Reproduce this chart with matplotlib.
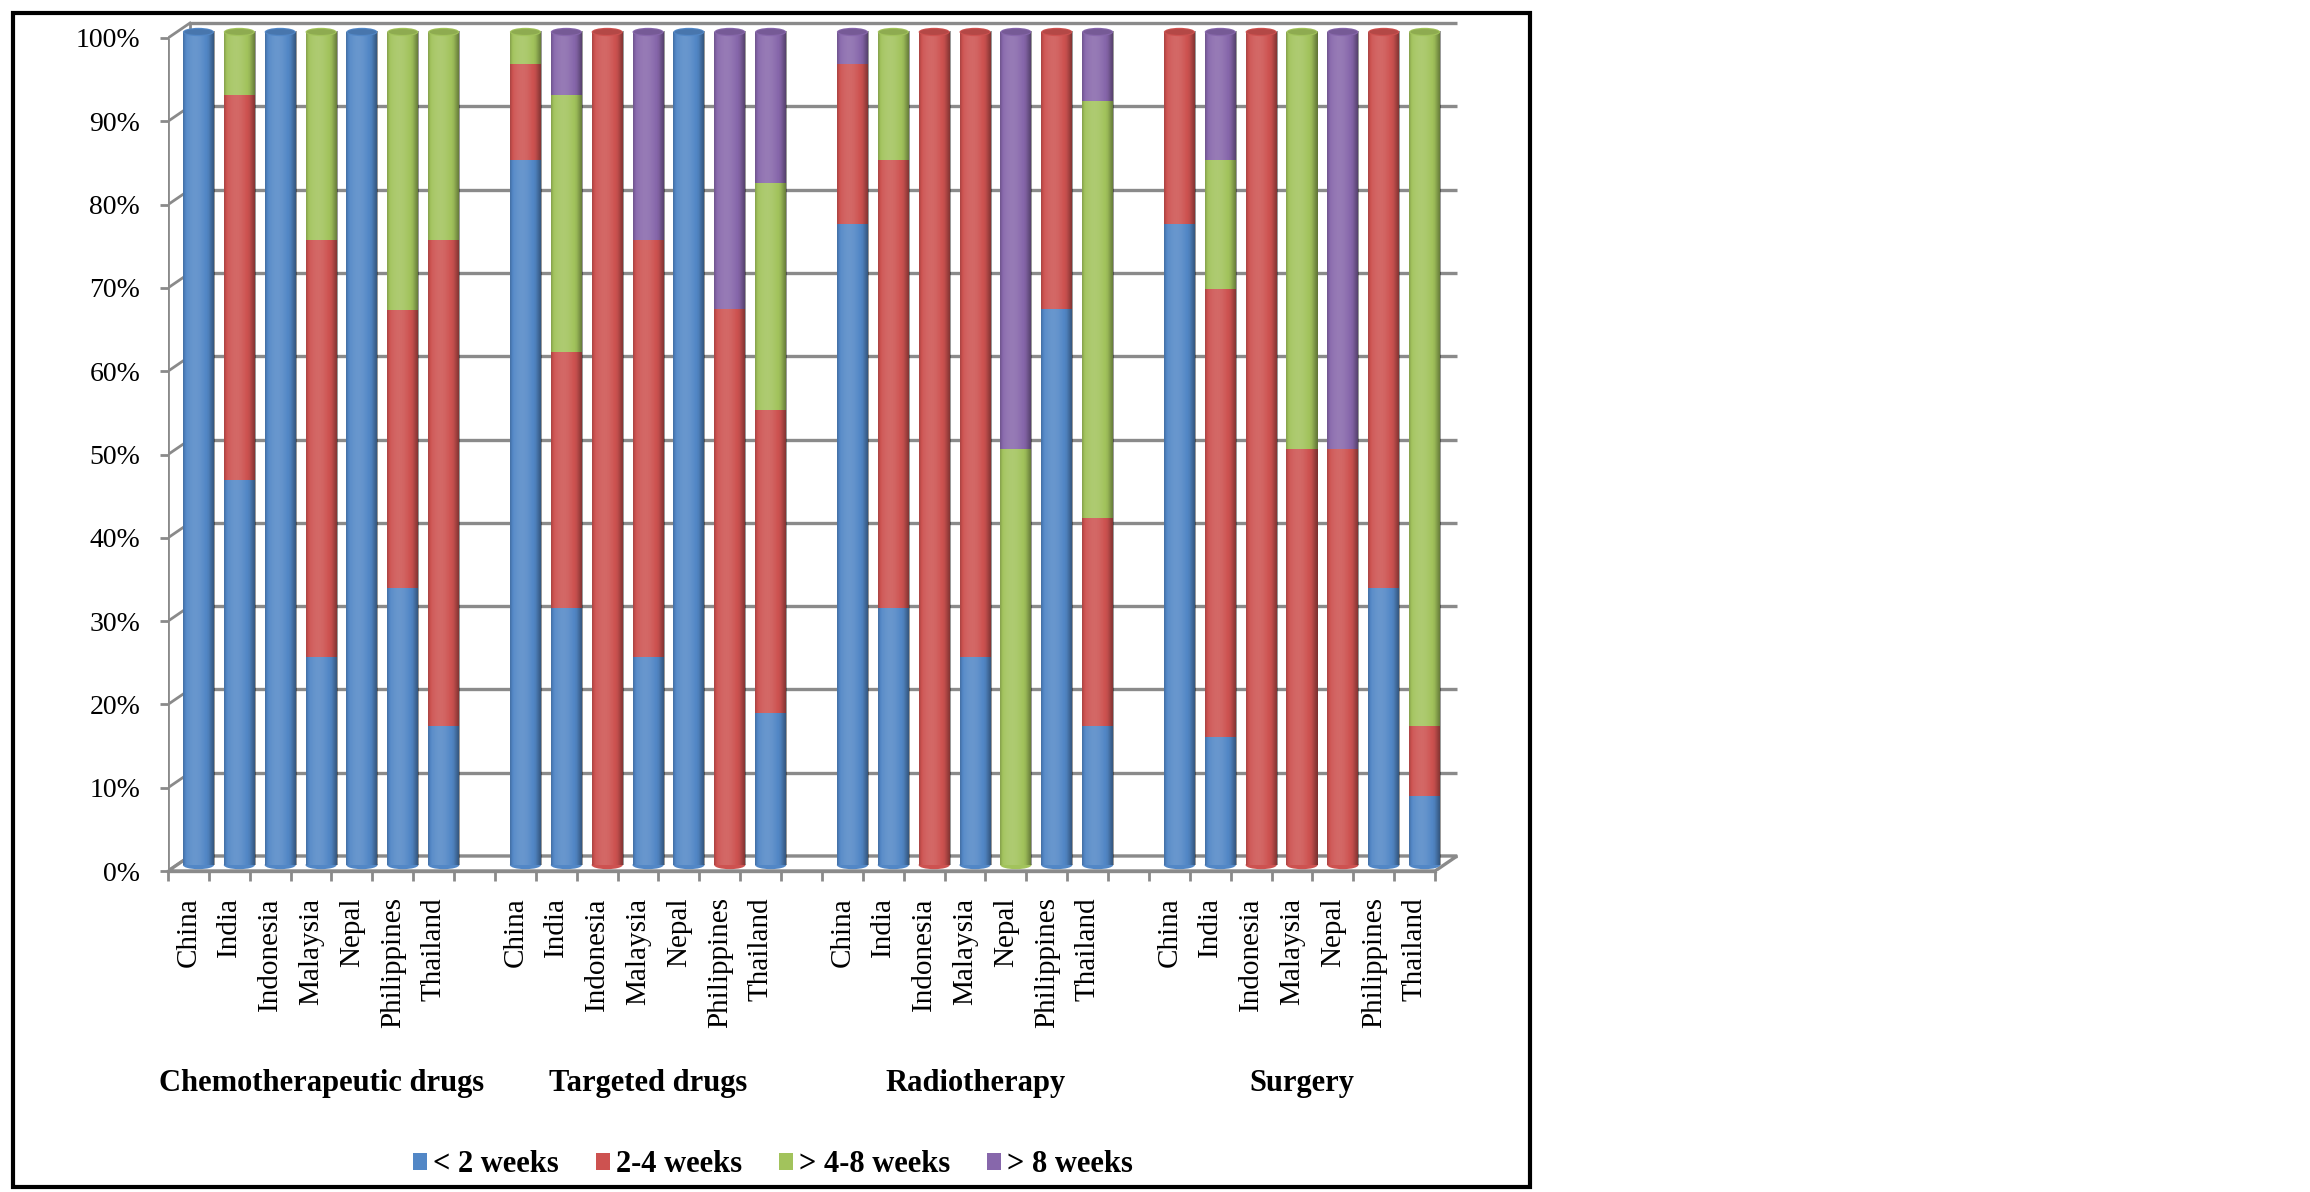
import matplotlib
matplotlib.use("Agg")
import matplotlib.pyplot as plt
import numpy as np
from matplotlib.patches import Ellipse, Polygon, Rectangle
from matplotlib.transforms import ScaledTranslation, blended_transform_factory
from matplotlib.ticker import FixedLocator, FuncFormatter

plt.rcParams['font.family'] = ['Liberation Serif', 'DejaVu Serif']

groups = ["Chemotherapeutic drugs", "Targeted drugs", "Radiotherapy", "Surgery"]
countries = ["China", "India", "Indonesia", "Malaysia", "Nepal", "Philippines", "Thailand"]
series_names = ["< 2 weeks", "2-4 weeks", "> 4-8 weeks", "> 8 weeks"]
colors = ["#5287c6", "#cd5250", "#a2c35c", "#8767ab"]

# percentages, group by group (chemo, targeted, radiotherapy, surgery)
lt2 = [100, 46.2, 100, 25, 100, 33.3, 16.7,
       84.6, 30.8, 0, 25, 100, 0, 18.2,
       76.9, 30.8, 0, 25, 0, 66.7, 16.7,
       76.9, 15.4, 0, 0, 0, 33.3, 8.3]
w2_4 = [0, 46.2, 0, 50, 0, 33.3, 58.3,
        11.5, 30.8, 100, 50, 0, 66.7, 36.4,
        19.2, 53.8, 100, 75, 0, 33.3, 25.0,
        23.1, 53.8, 100, 50, 50, 66.7, 8.4]
w4_8 = [0, 7.6, 0, 25, 0, 33.4, 25,
        3.9, 30.8, 0, 0, 0, 0, 27.3,
        0, 15.4, 0, 0, 50, 0, 50,
        0, 15.4, 0, 50, 0, 0, 83.3]
gt8 = [0, 0, 0, 0, 0, 0, 0,
       0, 7.6, 0, 25, 0, 33.3, 18.1,
       3.9, 0, 0, 0, 50, 0, 8.3,
       0, 15.4, 0, 0, 50, 0, 0]
series = [lt2, w2_4, w4_8, gt8]

n_c = len(countries)
pos = np.array([g * (n_c + 1) + i for g in range(len(groups)) for i in range(n_c)], dtype=float)
labels = countries * len(groups)
xmin, xmax = -0.5, pos.max() + 0.5

fig = plt.figure(figsize=(23.1, 11.92), dpi=100)
ax = fig.add_axes([0.07273, 0.26929, 0.5609, 0.7198])

gray = "#8a8a8a"
dxd, dyd = 0.538, 1.8  # depth of the 3d box, data units

# back wall grid lines and side wall
ticks = np.arange(0, 101, 10)
ax.hlines(ticks + dyd, xmin + dxd, xmax + dxd, color=gray, lw=2.4, zorder=1)
ax.vlines(xmin + dxd, dyd, 100 + dyd, color=gray, lw=2.0, zorder=1)
for t in ticks:
    ax.plot([xmin, xmin + dxd], [t, t + dyd], color=gray, lw=2.0, zorder=1)
ax.vlines(xmin, 0, 100, color=gray, lw=2.0, zorder=2)
floor = Polygon([[xmin, 0], [xmax, 0], [xmax + dxd, dyd], [xmin + dxd, dyd]],
                closed=True, facecolor="white", edgecolor=gray, lw=2.4, zorder=1.5)
ax.add_patch(floor)

# bars (cylinders) sit midway in depth
off = ax.transData + ScaledTranslation(0.10, 0.06, fig.dpi_scale_trans)
width = 0.76
bottom = np.zeros(len(pos))
for vals, name, col in zip(series, series_names, colors):
    ax.bar(pos, vals, width, bottom=bottom, color=col, label=name,
           transform=off, zorder=3, linewidth=0)
    bottom += np.array(vals)

# cylinder shading
u = np.linspace(0, 1, 80)
shade = 0.18 * np.cos(np.pi * (u - 0.38) * 1.2) - 0.05
shade[u > 0.8] -= (u[u > 0.8] - 0.8) * 1.2
shade[u < 0.1] -= (0.1 - u[u < 0.1]) * 1.5
overlay = np.zeros((1, len(u), 4))
overlay[0, shade > 0, :3] = 1.0
overlay[0, :, 3] = np.clip(np.abs(shade), 0, 0.6)

vals_arr = np.array(series)
for j, x in enumerate(pos):
    tot = vals_arr[:, j].sum()
    ax.imshow(overlay, extent=(x - width / 2, x + width / 2, 0, tot),
              transform=off, aspect="auto", interpolation="bilinear", zorder=3.5)
    top_i = max(i for i in range(4) if vals_arr[i, j] > 0)
    base_i = min(i for i in range(4) if vals_arr[i, j] > 0)
    ax.add_patch(Ellipse((x, tot), width, 1.0, facecolor=colors[top_i],
                         edgecolor="none", transform=off, zorder=4))
    ax.add_patch(Ellipse((x, tot), width * 0.92, 0.7, facecolor="black", alpha=0.12,
                         edgecolor="none", transform=off, zorder=4.1))
    ax.add_patch(Ellipse((x, 0), width, 1.0, facecolor=colors[base_i],
                         edgecolor="none", transform=off, zorder=2.9))

ax.set_xlim(xmin, xmin + 31.7)
ax.set_ylim(0, 103)
for s in ax.spines.values():
    s.set_visible(False)

ax.yaxis.set_major_locator(FixedLocator(ticks))
ax.yaxis.set_major_formatter(FuncFormatter(lambda v, p: f"{v:.0f}%"))
ax.tick_params(axis="y", length=6, width=2, color=gray, pad=14, labelsize=20)

ax.set_xticks(pos)
ax.set_xticklabels(labels, rotation=90, va="top", ha="center", fontsize=21)
ax.set_xticks(np.arange(xmin, xmax + 0.01, 1.0), minor=True)
ax.tick_params(axis="x", which="major", length=0, pad=19)
ax.tick_params(axis="x", which="minor", length=7, width=2, color=gray)
ax.plot([xmin, xmax], [0, 0], color=gray, lw=2.4, zorder=2, clip_on=False)

# group labels under each block of countries
tr = blended_transform_factory(ax.transData, fig.transFigure)
for g, name in enumerate(groups):
    cx = pos[g * n_c:(g + 1) * n_c].mean() + 0.25
    ax.text(cx, 0.0914, name, transform=tr, ha="center", va="center",
            fontsize=22, fontweight="bold")

fig.legend(loc="center", bbox_to_anchor=(0.3346, 0.0227), ncol=4, frameon=False,
           prop={"size": 22, "weight": "bold"}, handlelength=0.46, handleheight=0.5,
           handletextpad=0.2, columnspacing=1.2)

fig.add_artist(Rectangle((0.0056, 0.0042), 0.6567, 0.9849, transform=fig.transFigure,
                         fill=False, edgecolor="black", lw=3))

fig.savefig("out.png", dpi=100)
